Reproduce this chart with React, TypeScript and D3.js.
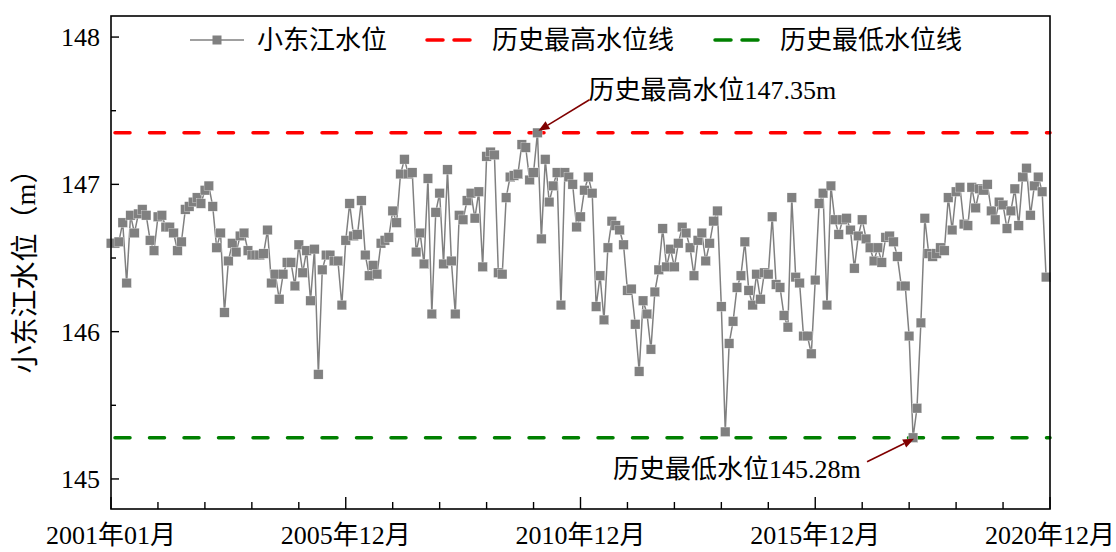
import { scaleLinear, line, range } from "d3";

const width = 1116;
const height = 552;

// monthly water level, 2001-01 .. 2020-12 (one row per year)
const waterLevel = [
  146.6, 146.6, 146.61, 146.74, 146.33, 146.79, 146.67, 146.8, 146.83, 146.79, 146.62, 146.55,
  146.78, 146.79, 146.71, 146.71, 146.67, 146.55, 146.61, 146.83, 146.85, 146.88, 146.91, 146.87,
  146.96, 146.99, 146.85, 146.57, 146.67, 146.13, 146.48, 146.6, 146.54, 146.65, 146.67, 146.55,
  146.52, 146.52, 146.52, 146.53, 146.69, 146.33, 146.39, 146.22, 146.39, 146.47, 146.47, 146.31,
  146.59, 146.4, 146.55, 146.21, 146.56, 145.71, 146.42, 146.52, 146.52, 146.48, 146.48, 146.18,
  146.62, 146.87, 146.65, 146.66, 146.89, 146.52, 146.38, 146.45, 146.39, 146.6, 146.62, 146.64,
  146.82, 146.74, 147.07, 147.17, 147.07, 147.08, 146.54, 146.67, 146.46, 147.04, 146.12, 146.81,
  146.94, 146.46, 147.1, 146.48, 146.12, 146.79, 146.76, 146.89, 146.94, 146.77, 146.95, 146.44,
  147.19, 147.22, 147.2, 146.4, 146.39, 146.91, 147.05, 147.06, 147.07, 147.27, 147.25, 147.03,
  147.08, 147.35, 146.63, 147.17, 146.88, 146.99, 147.08, 146.18, 147.08, 147.05, 147.0, 146.71,
  146.78, 146.96, 147.05, 146.94, 146.17, 146.38, 146.08, 146.57, 146.75, 146.72, 146.69, 146.59,
  146.28, 146.29, 146.05, 145.73, 146.21, 146.12, 145.88, 146.27, 146.42, 146.7, 146.44, 146.56,
  146.44, 146.6, 146.71, 146.67, 146.57, 146.38, 146.62, 146.67, 146.48, 146.6, 146.75, 146.82,
  146.17, 145.32, 145.92, 146.07, 146.3, 146.38, 146.61, 146.28, 146.18, 146.39, 146.22, 146.4,
  146.39, 146.78, 146.32, 146.3, 146.11, 146.03, 146.91, 146.37, 146.33, 145.97, 145.97, 145.85,
  146.35, 146.87, 146.94, 146.18, 146.99, 146.76, 146.66, 146.76, 146.77, 146.69, 146.43, 146.65,
  146.76, 146.63, 146.57, 146.48, 146.57, 146.47, 146.64, 146.65, 146.61, 146.51, 146.31, 146.31,
  145.97, 145.28, 145.48, 146.06, 146.77, 146.53, 146.51, 146.53, 146.57, 146.55, 146.91, 146.69,
  146.95, 146.98, 146.73, 146.72, 146.98, 146.84, 146.97, 146.96, 147.0, 146.82, 146.76, 146.88,
  146.86, 146.7, 146.82, 146.97, 146.72, 147.05, 147.11, 146.79, 146.99, 147.05, 146.95, 146.37,
];

const highest = 147.35;
const lowest = 145.28;

const xTickIdx = [0, 60, 120, 180, 240];
const xTickLabels = ["2001年01月", "2005年12月", "2010年12月", "2015年12月", "2020年12月"];
const yTicks = [145, 146, 147, 148];
const yMinor = [145.5, 146.5, 147.5];

const seriesName = "小东江水位";
const highName = "历史最高水位线";
const lowName = "历史最低水位线";
const yTitle = "小东江水位（m）";

const font = "'Liberation Serif', 'Times New Roman', 'Noto Sans CJK SC', serif";
const gray = "#808080";
const red = "#ff0000";
const green = "#008000";
const arrowColor = "#800000";

const left = 111;
const right = 1050;
const top = 16;
const bottom = 509;

const x = scaleLinear().domain([0, 240]).range([left, right]);
const y = scaleLinear().domain([144.796, 148.143]).range([bottom, top]);

const path = line<number>()
  .x((_, i) => x(i))
  .y((d) => y(d));

const Arrow = ({ x1, y1, x2, y2 }: { x1: number; y1: number; x2: number; y2: number }) => {
  const a = Math.atan2(y2 - y1, x2 - x1);
  const len = 11;
  const w = 4.5;
  const bx = x2 - len * Math.cos(a);
  const by = y2 - len * Math.sin(a);
  const px = -Math.sin(a) * w;
  const py = Math.cos(a) * w;
  return (
    <g>
      <line x1={x1} y1={y1} x2={bx} y2={by} stroke={arrowColor} strokeWidth={1.6} />
      <polygon
        points={`${x2},${y2} ${bx + px},${by + py} ${bx - px},${by - py}`}
        fill={arrowColor}
      />
    </g>
  );
};

const App = () => {
  const maxIdx = waterLevel.indexOf(highest);
  const minIdx = waterLevel.indexOf(lowest);
  const ms = 9.5;

  return (
    <svg
      width={width}
      height={height}
      style={{ position: "absolute", left: 0, top: 0, background: "#fff" }}
      fontFamily={font}
    >
      {/* reference lines */}
      <line
        x1={left + 4}
        x2={right}
        y1={y(highest)}
        y2={y(highest)}
        stroke={red}
        strokeWidth={3.5}
        strokeDasharray="15 19.5"
        strokeLinecap="round"
      />
      <line
        x1={left + 4}
        x2={right}
        y1={y(lowest)}
        y2={y(lowest)}
        stroke={green}
        strokeWidth={3.5}
        strokeDasharray="15 19.5"
        strokeLinecap="round"
      />

      {/* series */}
      <path d={path(waterLevel)!} fill="none" stroke={gray} strokeWidth={1.5} />
      {waterLevel.map((d, i) => (
        <rect
          key={i}
          x={x(i) - ms / 2}
          y={y(d) - ms / 2}
          width={ms}
          height={ms}
          fill={gray}
          stroke="#fff"
          strokeWidth={0.3}
        />
      ))}

      {/* frame */}
      <rect
        x={left}
        y={top}
        width={right - left}
        height={bottom - top}
        fill="none"
        stroke="#000"
        strokeWidth={1.6}
      />

      {/* y axis */}
      {yTicks.map((t) => (
        <g key={t}>
          <line x1={left} x2={left + 8} y1={y(t)} y2={y(t)} stroke="#000" strokeWidth={1.4} />
          <text x={left - 11} y={y(t)} dy="0.35em" textAnchor="end" fontSize={26}>
            {t}
          </text>
        </g>
      ))}
      {yMinor.map((t) => (
        <line key={t} x1={left} x2={left + 5} y1={y(t)} y2={y(t)} stroke="#000" strokeWidth={1.4} />
      ))}
      <text
        transform={`translate(25, ${(top + bottom) / 2 + 2}) rotate(-90)`}
        textAnchor="middle"
        dominantBaseline="central"
        fontSize={28}
      >
        {yTitle}
      </text>

      {/* x axis */}
      {range(0, 241, 12).map((i) => {
        const major = xTickIdx.includes(i);
        return (
          <line
            key={i}
            x1={x(i)}
            x2={x(i)}
            y1={bottom}
            y2={bottom - (major ? 12 : 7)}
            stroke="#000"
            strokeWidth={1.4}
          />
        );
      })}
      {xTickIdx.map((i, k) => (
        <text key={i} x={x(i)} y={bottom + 35} textAnchor="middle" fontSize={26}>
          {xTickLabels[k]}
        </text>
      ))}

      {/* legend */}
      <g fontSize={26}>
        <line x1={190} x2={244} y1={40} y2={40} stroke={gray} strokeWidth={1.5} />
        <rect x={217 - 4.5} y={35.5} width={9} height={9} fill={gray} />
        <text x={257} y={40} dy="0.35em">
          {seriesName}
        </text>
        <line
          x1={427}
          x2={472}
          y1={40}
          y2={40}
          stroke={red}
          strokeWidth={3.5}
          strokeDasharray="16 11"
          strokeLinecap="round"
        />
        <text x={492} y={40} dy="0.35em">
          {highName}
        </text>
        <line
          x1={715}
          x2={760}
          y1={40}
          y2={40}
          stroke={green}
          strokeWidth={3.5}
          strokeDasharray="16 11"
          strokeLinecap="round"
        />
        <text x={780} y={40} dy="0.35em">
          {lowName}
        </text>
      </g>

      {/* annotations */}
      <Arrow x1={x(maxIdx) + 52} y1={y(highest) - 33} x2={x(maxIdx) + 1} y2={y(highest) - 2} />
      <text x={x(maxIdx) + 51} y={y(highest) - 43} dy="0.35em" fontSize={26}>
        {`历史最高水位${highest}m`}
      </text>
      <Arrow x1={x(minIdx) - 46} y1={y(lowest) + 24} x2={x(minIdx) + 1} y2={y(lowest) + 1} />
      <text x={x(minIdx) - 300} y={y(lowest) + 31} dy="0.35em" fontSize={26}>
        {`历史最低水位${lowest}m`}
      </text>
    </svg>
  );
};

export default App;
